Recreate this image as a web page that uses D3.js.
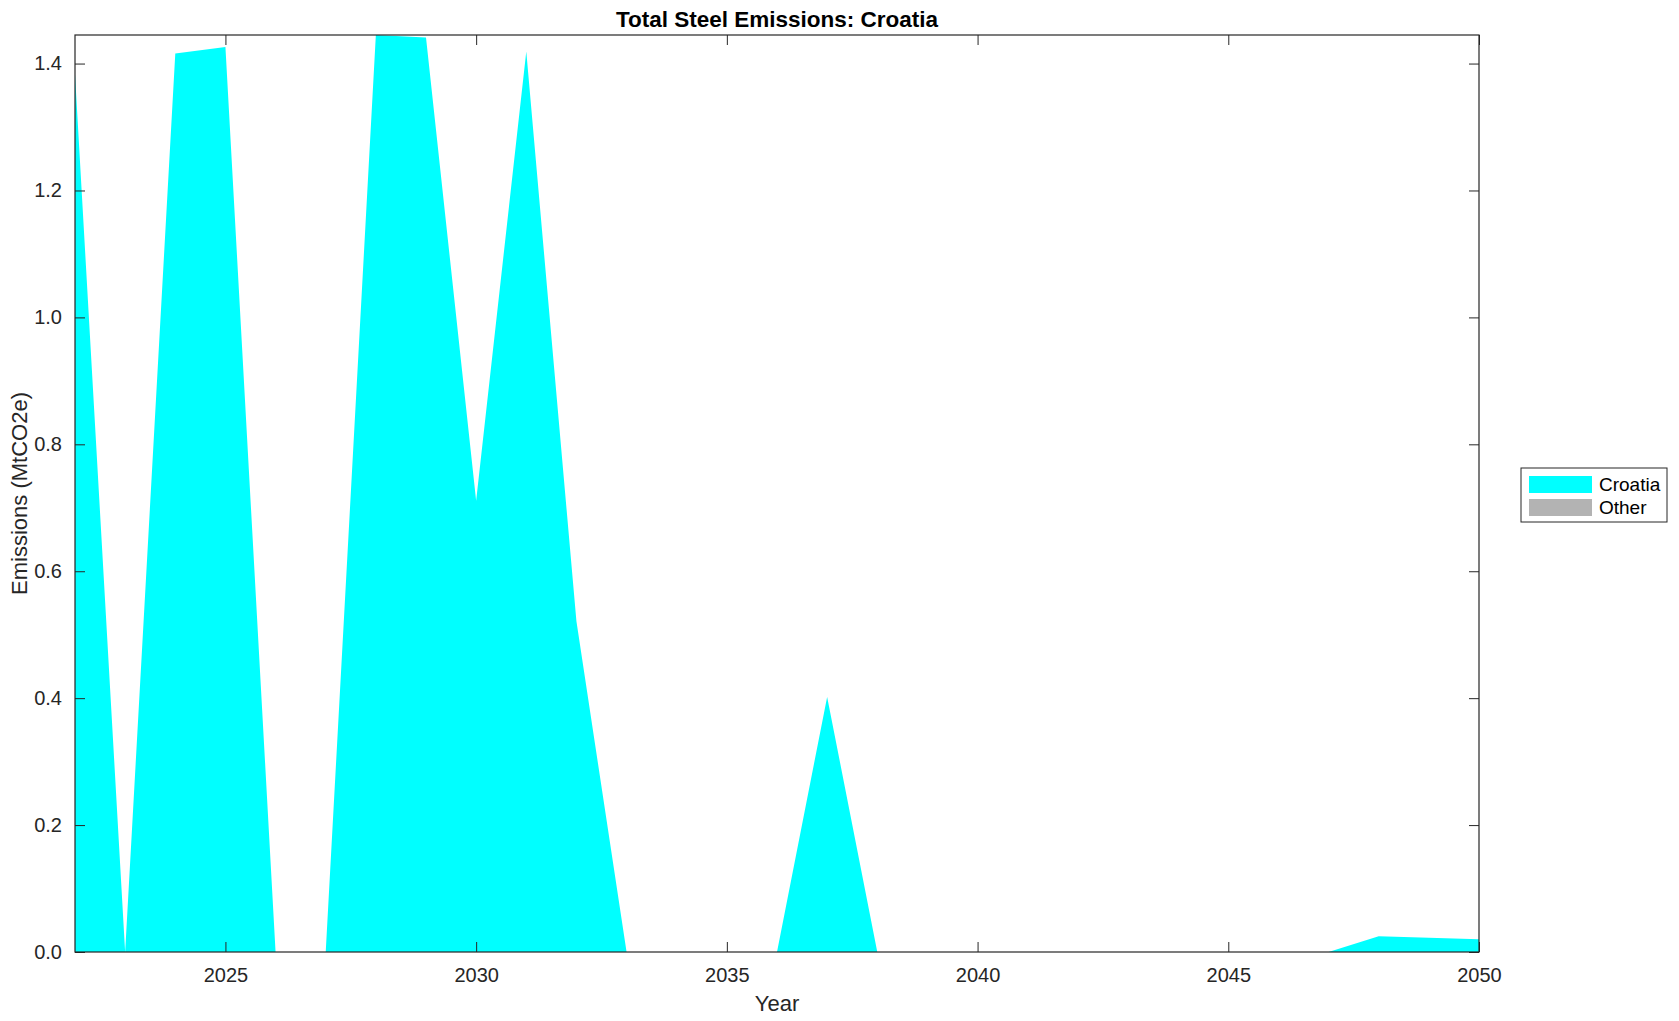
<!DOCTYPE html>
<html>
<head>
<meta charset="utf-8">
<script src="https://cdn.jsdelivr.net/npm/d3@7"></script>
<style>
  body { margin: 0; background: #fff; }
  svg { display: block; font-family: "Liberation Sans", Arial, sans-serif; }
</style>
</head>
<body>
<svg id="chart" width="1679" height="1021"></svg>
<script>
var years = d3.range(2022, 2051);
var croatia = [1.383, 0, 1.416, 1.426, 0, 0, 1.445, 1.441, 0.711, 1.419, 0.521, 0,
  0, 0, 0, 0.402, 0, 0, 0, 0, 0, 0, 0, 0, 0, 0, 0.025, 0.0225, 0.020];
var other = years.map(function(){ return 0; });
var xTicks = [2025, 2030, 2035, 2040, 2045, 2050];
var yTicks = [0, 0.2, 0.4, 0.6, 0.8, 1.0, 1.2, 1.4];
var seriesNames = ["Croatia", "Other"];
var seriesColors = ["#00ffff", "#b3b3b3"];

var svg = d3.select("#chart"),
    m = {left: 75, right: 1479, top: 35, bottom: 952},
    ink = "#262626";

var rows = years.map(function(y, i){
  return {year: y, Croatia: croatia[i], Other: other[i]};
});

var x = d3.scaleLinear()
  .domain([2022, 2050])
  .range([m.left, m.right]);

var y = d3.scaleLinear()
  .domain([0, 1.445])
  .range([m.bottom, m.top]);

var stack = d3.stack().keys(seriesNames)(rows);

var area = d3.area()
  .x(function(d){ return x(d.data.year); })
  .y0(function(d){ return y(d[0]); })
  .y1(function(d){ return y(d[1]); });

svg.append("g")
  .selectAll("path")
  .data(stack)
  .enter().append("path")
  .attr("d", area)
  .attr("fill", function(d, i){ return seriesColors[i]; });

// axes, MATLAB style box with inward ticks
var tl = 10;
var axes = svg.append("g").attr("class", "axes");

function styleAxis(g) {
  g.select(".domain").remove();
  g.selectAll(".tick line").attr("stroke", ink);
  g.selectAll(".tick text").attr("fill", ink).style("font-size", "20px");
}

axes.append("g")
  .attr("transform", "translate(0," + m.bottom + ")")
  .call(d3.axisBottom(x).tickValues(xTicks).tickFormat(d3.format("d"))
    .tickSizeInner(-tl).tickSizeOuter(0).tickPadding(16))
  .call(styleAxis);

axes.append("g")
  .attr("transform", "translate(0," + m.top + ")")
  .call(d3.axisTop(x).tickValues(xTicks).tickFormat("")
    .tickSizeInner(-tl).tickSizeOuter(0))
  .call(styleAxis);

axes.append("g")
  .attr("transform", "translate(" + m.left + ",0)")
  .call(d3.axisLeft(y).tickValues(yTicks).tickFormat(d3.format(".1f"))
    .tickSizeInner(-tl).tickSizeOuter(0).tickPadding(13))
  .call(styleAxis);

axes.append("g")
  .attr("transform", "translate(" + m.right + ",0)")
  .call(d3.axisRight(y).tickValues(yTicks).tickFormat("")
    .tickSizeInner(-tl).tickSizeOuter(0))
  .call(styleAxis);

axes.append("rect")
  .attr("x", m.left).attr("y", m.top)
  .attr("width", m.right - m.left).attr("height", m.bottom - m.top)
  .attr("fill", "none").attr("stroke", ink).attr("stroke-width", 1.2);

svg.append("text")
  .attr("x", (m.left + m.right) / 2).attr("y", 27)
  .attr("text-anchor", "middle")
  .attr("font-weight", "bold").attr("font-size", "22.5px").attr("fill", "#000")
  .text("Total Steel Emissions: Croatia");

svg.append("text")
  .attr("x", (m.left + m.right) / 2).attr("y", 1011)
  .attr("text-anchor", "middle")
  .attr("font-size", "22px").attr("fill", ink)
  .text("Year");

svg.append("text")
  .attr("transform", "translate(27," + (m.top + m.bottom) / 2 + ") rotate(-90)")
  .attr("text-anchor", "middle")
  .attr("font-size", "22px").attr("fill", ink)
  .text("Emissions (MtCO2e)");

// legend
var lg = svg.append("g").attr("transform", "translate(1521,468)");
lg.append("rect")
  .attr("width", 146).attr("height", 54)
  .attr("fill", "#fff").attr("stroke", ink).attr("stroke-width", 1);
var item = lg.selectAll("g.item")
  .data(seriesNames)
  .enter().append("g")
  .attr("transform", function(d, i){ return "translate(8," + (8 + i * 23) + ")"; });
item.append("rect")
  .attr("width", 63).attr("height", 17)
  .attr("fill", function(d, i){ return seriesColors[i]; });
item.append("text")
  .attr("x", 70).attr("y", 15)
  .attr("font-size", "19px").attr("fill", "#000")
  .text(function(d){ return d; });
</script>
</body>
</html>
